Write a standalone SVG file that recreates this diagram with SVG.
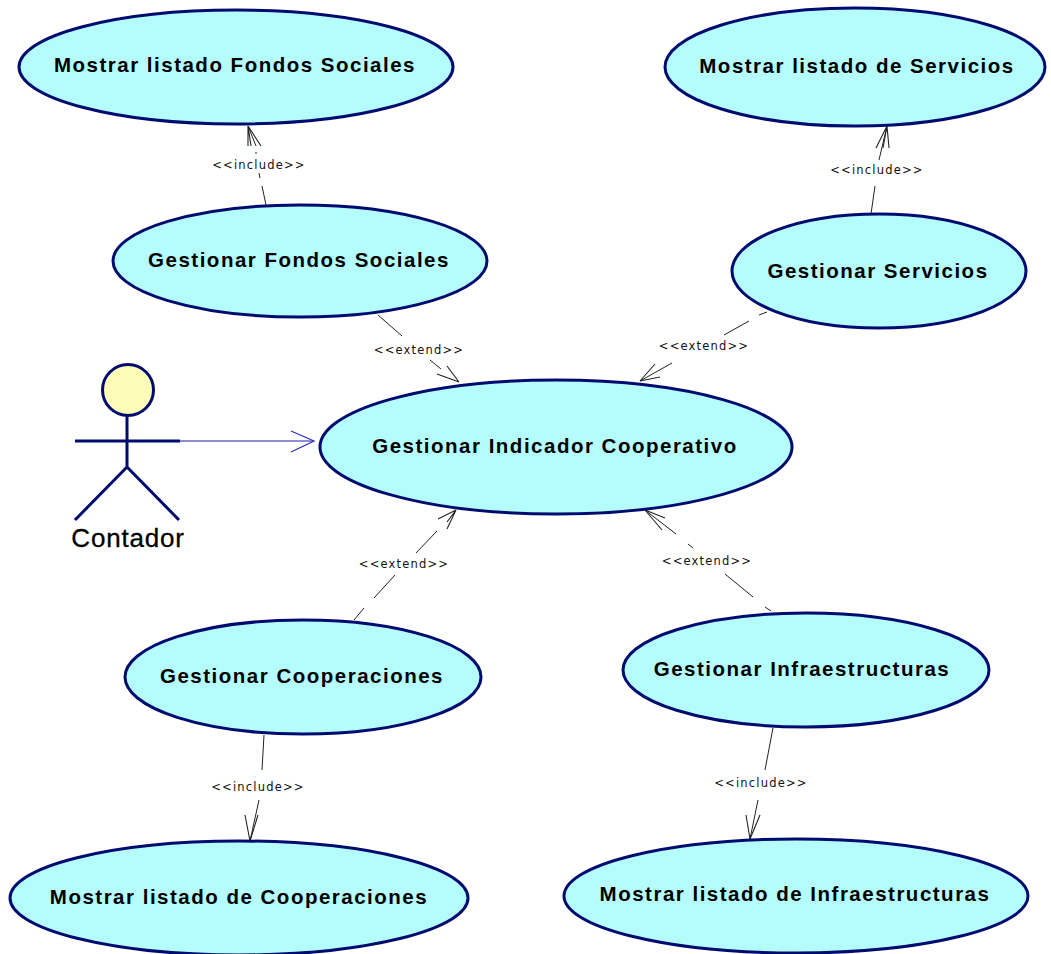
<svg xmlns="http://www.w3.org/2000/svg" width="1051" height="954" viewBox="0 0 1051 954">
<defs>
<style>
.uc{fill:#b5fdfd;stroke:#000b70;stroke-width:3}
.t{font-family:"Liberation Sans",Arial,sans-serif;font-weight:bold;font-size:20.5px;fill:#000;text-anchor:middle;letter-spacing:1.5px}
.s{font-family:"DejaVu Sans",Verdana,sans-serif;font-size:11.5px;fill:#111;text-anchor:middle;letter-spacing:1.2px}
.d{fill:none;stroke:#222;stroke-width:1}
.h{fill:none;stroke:#222;stroke-width:1.1}
.a{fill:none;stroke:#000b70;stroke-width:3}
</style>
</defs>
<rect width="1051" height="954" fill="#fff"/>
<g id="connectors">
<path class="d" d="M266 205L262 186M260 178L259 173M256 154L256 152M256 146L248 126"/>
<path class="h" d="M248 126L248 146M248 126L251 146M248 126L261 146"/>
<path class="d" d="M871 214L875 186M879 160L887 126"/>
<path class="h" d="M887 126L876 148M887 126L883 148M887 126L889 148"/>
<path class="d" d="M378 315L402 336M430 360L441 369"/>
<path class="h" d="M459 382L437 374M459 382L447 366"/>
<path class="d" d="M767 312L759 315M749 321L724 335M672 363L640 381"/>
<path class="h" d="M640 381L655 364M640 381L660 377"/>
<path class="d" d="M354 620L364 608M374 598L395 575M416 553L437 531"/>
<path class="h" d="M456 510L438 519M456 510L447 522M456 510L447 529"/>
<path class="d" d="M771 611L765 607M753 597L725 574M693 548L688 544M676 534L645 510"/>
<path class="h" d="M645 510L665 518M645 510L662 530"/>
<path class="d" d="M264 735L262 770M259 800L250 841"/>
<path class="h" d="M250 841L245 815M250 841L258 815"/>
<path class="d" d="M773 728L765 770M758 800L750 839"/>
<path class="h" d="M750 839L746 815M750 839L760 815"/>
<path d="M180 441H314" fill="none" stroke="#1a1ab0" stroke-width="1.2"/>
<path d="M291 431L314 441L291 452" fill="none" stroke="#2a2ac0" stroke-width="1.2"/>
</g>
<g id="actor">
<circle cx="128" cy="390" r="25.5" fill="#fdfdb8" stroke="#000b70" stroke-width="3"/>
<path class="a" d="M127 416V467M75 441H180M127 467L75 520M127 467L179 520"/>
<text x="128" y="547" font-family="'Liberation Sans',Arial,sans-serif" font-size="26" text-anchor="middle" letter-spacing=".8" stroke="#000" stroke-width=".3">Contador</text>
</g>
<g id="uc1"><ellipse class="uc" cx="236" cy="67" rx="217" ry="57"/><text class="t" x="235" y="72">Mostrar listado Fondos Sociales</text></g>
<g id="uc2"><ellipse class="uc" cx="855" cy="67" rx="190" ry="59"/><text class="t" x="857" y="73">Mostrar listado de Servicios</text></g>
<g id="uc3"><ellipse class="uc" cx="300" cy="261" rx="187" ry="56"/><text class="t" x="299" y="267">Gestionar Fondos Sociales</text></g>
<g id="uc4"><ellipse class="uc" cx="879" cy="271" rx="147" ry="57"/><text class="t" x="878" y="278">Gestionar Servicios</text></g>
<g id="uc5"><ellipse class="uc" cx="556" cy="447" rx="236" ry="67"/><text class="t" x="555" y="453">Gestionar Indicador Cooperativo</text></g>
<g id="uc6"><ellipse class="uc" cx="303" cy="677" rx="178" ry="57"/><text class="t" x="302" y="683">Gestionar Cooperaciones</text></g>
<g id="uc7"><ellipse class="uc" cx="806" cy="670" rx="183" ry="57"/><text class="t" x="802" y="676">Gestionar Infraestructuras</text></g>
<g id="uc8"><ellipse class="uc" cx="239" cy="898" rx="229" ry="57"/><text class="t" x="239" y="904">Mostrar listado de Cooperaciones</text></g>
<g id="uc9"><ellipse class="uc" cx="796" cy="896" rx="232" ry="57"/><text class="t" x="795" y="901">Mostrar listado de Infraestructuras</text></g>
<g id="labels">
<text class="s" x="259" y="169">&lt;&lt;include&gt;&gt;</text>
<text class="s" x="877" y="174">&lt;&lt;include&gt;&gt;</text>
<text class="s" x="419" y="354">&lt;&lt;extend&gt;&gt;</text>
<text class="s" x="704" y="350">&lt;&lt;extend&gt;&gt;</text>
<text class="s" x="404" y="568">&lt;&lt;extend&gt;&gt;</text>
<text class="s" x="707" y="565">&lt;&lt;extend&gt;&gt;</text>
<text class="s" x="258" y="791">&lt;&lt;include&gt;&gt;</text>
<text class="s" x="761" y="787">&lt;&lt;include&gt;&gt;</text>
</g>
</svg>
